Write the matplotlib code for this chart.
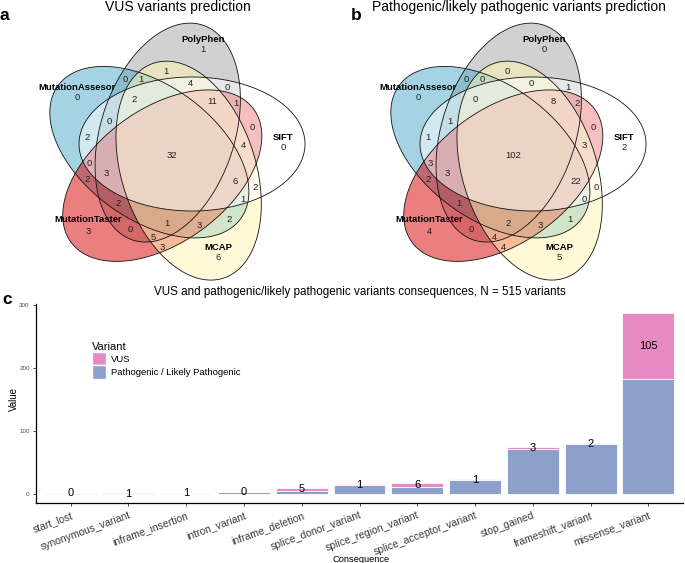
import numpy as np
import matplotlib
matplotlib.use("Agg")
import matplotlib.pyplot as plt
from matplotlib.patches import Polygon, Patch

plt.rcParams['font.family'] = ['Liberation Sans', 'DejaVu Sans']

W, H = 685, 563

# ---- Venn data (counts) ----
set_names = ['PolyPhen', 'MutationAssesor', 'MutationTaster', 'MCAP', 'SIFT']
set_angle = [72, 144, 216, 288, 0]          # direction of each ellipse (deg)
set_fill = ['#A5A5A5', '#4CA9C8', '#D80000', '#FFF5B2', '#FFFFFF']

vus_only = [1, 0, 3, 6, 0]
path_only = [0, 0, 4, 5, 2]

# overlap regions, same order for both diagrams
vus_regions = [0, 1, 1, 4, 0, 2, 11, 1, 0, 0, 2, 4, 32, 0, 3, 6, 2, 2, 1, 2, 1, 3, 2, 0, 5, 3]
path_regions = [0, 0, 0, 0, 1, 0, 8, 2, 1, 0, 1, 3, 102, 3, 3, 22, 2, 0, 0, 1, 2, 3, 1, 0, 4, 4]

# label layout (pixels, left diagram)
region_xy = [(125, 79), (141, 79), (166, 71), (190, 84), (227, 87), (134, 99), (212, 102),
             (236, 104), (109, 121), (252, 127), (87, 137), (243, 146), (172, 156), (89, 163),
             (106, 173), (235, 182), (87, 180), (255, 187), (243, 200), (118, 204), (167, 223),
             (199, 225), (229, 220), (130, 230), (153, 238), (162, 247)]
name_xy = [(203, 39), (77, 87), (88, 220), (218, 247), (283, 137)]

# ---- bar data ----
consequences = ['start_lost', 'synonymous_variant', 'inframe_insertion', 'intron_variant',
                'inframe_deletion', 'splice_donor_variant', 'splice_region_variant',
                'splice_acceptor_variant', 'stop_gained', 'frameshift_variant', 'missense_variant']
pathogenic = [1, 0, 1, 3, 5, 14, 11, 22, 72, 79, 182]
vus = [0, 1, 1, 0, 5, 1, 6, 1, 3, 2, 105]

fig = plt.figure(figsize=(6.85, 5.63), dpi=100)

# overlay axes in pixel coordinates for the two Venn diagrams
av = fig.add_axes([0, 0, 1, 1])
av.set_xlim(0, W)
av.set_ylim(H, 0)
av.axis('off')

A_AX, B_AX, OFF = 67, 113, (20, 11)
CY = 155


def ellipse_pts(cx, cy, ang):
    t = np.linspace(0, 2 * np.pi, 300)
    th = np.radians(ang)
    ox = OFF[0] * np.cos(th) - OFF[1] * np.sin(th)
    oy = OFF[0] * np.sin(th) + OFF[1] * np.cos(th)
    ex = cx + ox + B_AX * np.cos(t) * np.cos(th) - A_AX * np.sin(t) * np.sin(th)
    ey = cy - oy - (B_AX * np.cos(t) * np.sin(th) + A_AX * np.sin(t) * np.cos(th))
    return np.column_stack([ex, ey])


def draw_venn(cx, only, regions, title, letter, lx):
    dx = cx - 172
    for ang, col in zip(set_angle, set_fill):
        av.add_patch(Polygon(ellipse_pts(cx, CY, ang), closed=True, fc=col, ec='none', alpha=0.5))
    for ang in set_angle:
        av.add_patch(Polygon(ellipse_pts(cx, CY, ang), closed=True, fc='none', ec='#111111', lw=0.6))
    for (x, y), v in zip(region_xy, regions):
        av.text(x + dx, y, str(v), ha='center', va='center', fontsize=6.8, color='#222222')
    for (x, y), name, v in zip(name_xy, set_names, only):
        av.text(x + dx, y, name, ha='center', va='center', fontsize=6.8, fontweight='bold')
        av.text(x + dx, y + 11, str(v), ha='center', va='center', fontsize=6.8, color='#222222')
    av.text(cx + 6, 7, title, ha='center', va='center', fontsize=10)
    av.text(lx, 15, letter, ha='left', va='center', fontsize=12.5, fontweight='bold')


draw_venn(172, vus_only, vus_regions, 'VUS variants prediction', 'a', 0)
draw_venn(513, path_only, path_regions, 'Pathogenic/likely pathogenic variants prediction', 'b', 351)

# ---- bar chart ----
ax = fig.add_axes([36 / W, 1 - 503 / H, (683 - 36) / W, (503 - 304) / H])
x = np.arange(len(consequences))
pink, blue = '#E78AC3', '#8DA0CB'
ax.bar(x, pathogenic, width=0.9, color=blue, edgecolor='white', linewidth=0.6)
ax.bar(x, vus, width=0.9, bottom=pathogenic, color=pink, edgecolor='white', linewidth=0.6)
for xi, p, v in zip(x, pathogenic, vus):
    ax.text(xi, p + v / 2, str(v), ha='center', va='center', fontsize=8)

ax.set_xlim(-0.6, len(consequences) - 0.4)
ax.set_ylim(-14.35, 301.35)
ax.set_yticks([0, 100, 200, 300])
ax.tick_params(axis='y', labelsize=4.5, labelcolor='#4D4D4D', length=2.5, width=0.5, pad=2)
ax.tick_params(axis='x', length=2.5, width=0.5, pad=2.5)
ax.set_xticks(x)
ax.set_xticklabels(consequences, rotation=20, ha='right', va='top', rotation_mode='anchor',
                   fontsize=7.5, color='#3A3A3A')
for s in ['top', 'right']:
    ax.spines[s].set_visible(False)
for s in ['left', 'bottom']:
    ax.spines[s].set_linewidth(0.9)

fig.text(14 / W, 1 - 399 / H, 'Value', rotation=90, ha='center', va='center', fontsize=7)
fig.text(361 / W, 1 - 559 / H, 'Consequence', ha='center', va='center', fontsize=6.7)

handles = [Patch(fc=pink, ec='white'), Patch(fc=blue, ec='white')]
ax.legend(handles, ['VUS', 'Pathogenic / Likely Pathogenic'], title='Variant',
          loc='upper left', bbox_to_anchor=(92 / W, 1 - 342 / H), bbox_transform=fig.transFigure,
          frameon=False, fontsize=6.8, title_fontsize=8, handlelength=1.5, handleheight=1.8,
          handletextpad=0.5, labelspacing=0.0, borderpad=0, borderaxespad=0, alignment='left')

fig.text(360 / W, 1 - 292 / H, 'VUS and pathogenic/likely pathogenic variants consequences, N = 515 variants',
         ha='center', va='center', fontsize=8.4)
fig.text(2 / W, 1 - 300 / H, 'c', ha='left', va='center', fontsize=12.5, fontweight='bold')

fig.savefig('out.png', dpi=100)
